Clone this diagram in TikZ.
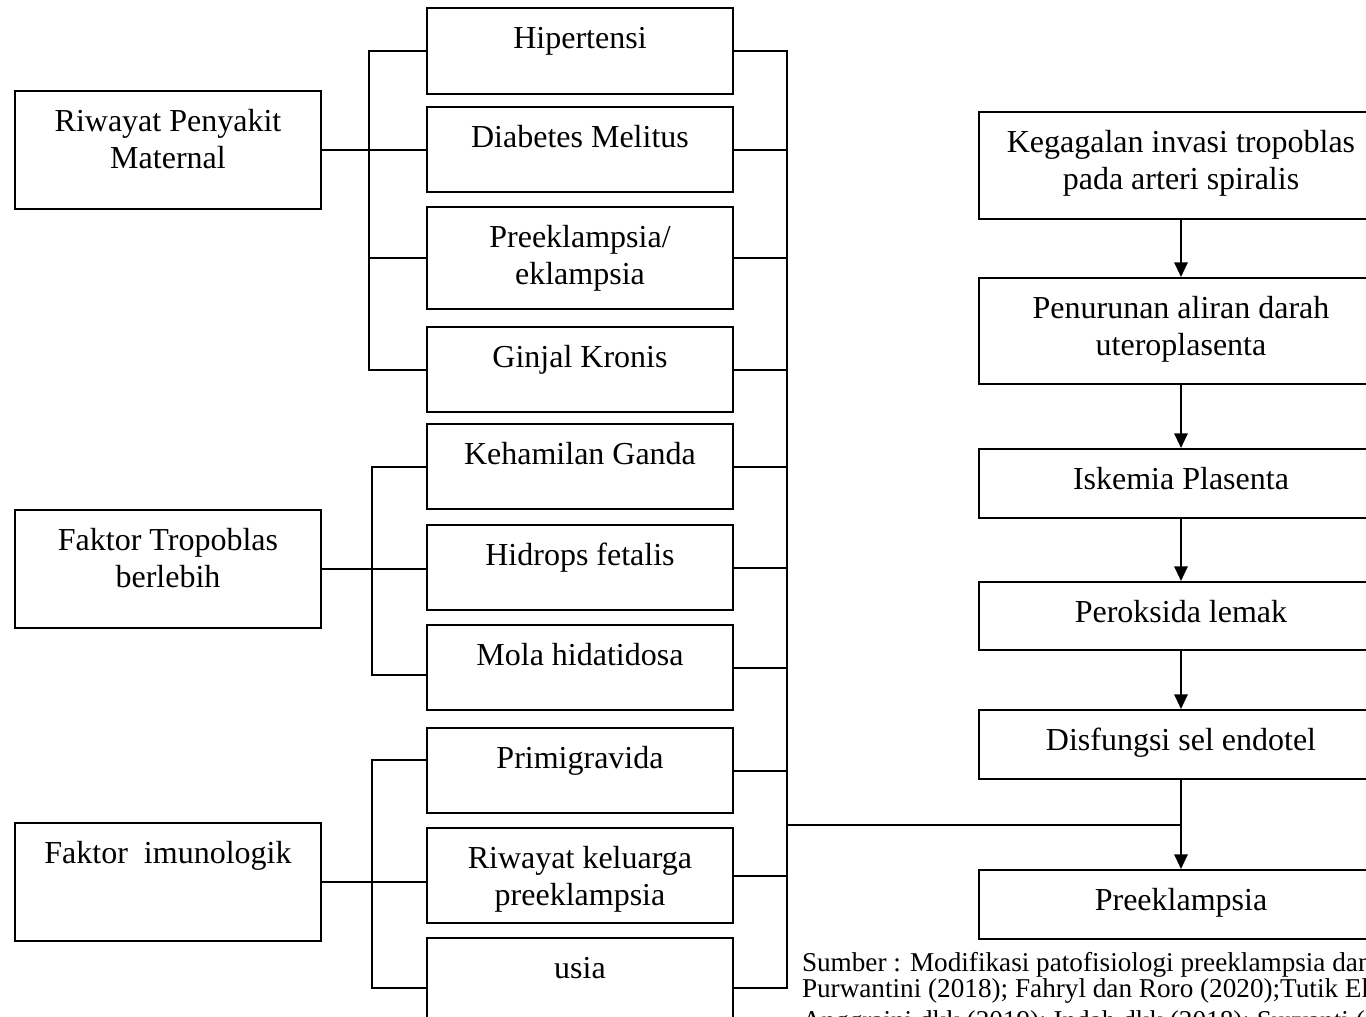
\documentclass[tikz,border=0pt]{standalone}
\usepackage{fontspec}
\setmainfont{Liberation Serif}
\usetikzlibrary{arrows.meta, calc}

\begin{document}
\begin{tikzpicture}[x=0.375pt, y=-0.375pt, line width=0.75pt,
   box/.style={draw, anchor=north west, inner sep=0pt, align=flush center,
     font=\fontsize{12}{13.9}\selectfont, text height=15pt, text depth=#1},
   box/.default=16.875pt,
   lbox/.style={box=29.25pt, text width=114.75pt},
   mbox/.style={box=#1, text width=114.75pt},
   mbox/.default=16.875pt,
   rbox/.style={box=#1, text width=151.5pt},
   arr/.style={-{Triangle[length=5.5pt, width=5pt]}}]
   \useasboundingbox (0,0) rectangle (1366,1017);
   \clip (0,0) rectangle (1366,1017);

   % Factor boxes
   \node[lbox] (rpm) at (14,90) {Riwayat Penyakit\\Maternal};
   \node[lbox] (ftb) at (14,509) {Faktor Tropoblas\\berlebih};
   \node[lbox] (fim) at (14,822) {Faktor\ \ imunologik};

   % Middle column
   \node[mbox=17.25pt] (hip) at (426,7) {Hipertensi};
   \node[mbox] (dm) at (426,106) {Diabetes Melitus};
   \node[mbox=23.25pt] (pe) at (426,206) {Preeklampsia/\\eklampsia};
   \node[mbox] (gk) at (426,326) {Ginjal Kronis};
   \node[mbox] (kg) at (426,423) {Kehamilan Ganda};
   \node[mbox] (hf) at (426,524) {Hidrops fetalis};
   \node[mbox] (mh) at (426,624) {Mola hidatidosa};
   \node[mbox] (pg) at (426,727) {Primigravida};
   \node[mbox=20.625pt] (rkp) at (426,827) {Riwayat keluarga\\preeklampsia};
   \node[mbox=22.5pt] (usia) at (426,937) {usia};

   % Right chain
   \node[rbox=25.125pt] (kit) at (978,111) {Kegagalan invasi tropoblas\\pada arteri spiralis};
   \node[rbox=24.75pt] (pad) at (978,277) {Penurunan aliran darah\\uteroplasenta};
   \node[rbox=10.875pt] (ikp) at (978,448) {Iskemia Plasenta};
   \node[rbox=10.5pt] (plk) at (978,581) {Peroksida lemak};
   \node[rbox=10.875pt] (dse) at (978,709) {Disfungsi sel endotel};
   \node[rbox=10.875pt] (pre) at (978,869) {Preeklampsia};

   \node[anchor=base west, align=flush left, inner sep=0pt, text width=300pt,
     font=\fontsize{10.2}{9.75}\selectfont] (src) at (801,971)
     {Sumber : Modifikasi patofisiologi preeklampsia dan\\
      Purwantini (2018); Fahryl dan Roro (2020);Tutik Eka\\[2.5pt]
      Anggraini dkk (2019); Indah dkk (2018); Suryanti (2019)};

   % Left branches
   \draw (rpm.east) -- (rpm.east -| dm.west);
   \draw (hip.west) -- ++(-57,0) |- (gk.west);
   \draw (pe.west) -- ++(-57,0);
   \draw (ftb.east) -- (ftb.east -| hf.west);
   \draw (kg.west) -- ++(-54,0) |- ([yshift=-2.8pt]mh.west);
   \draw (fim.east) -- (fim.east -| rkp.west);
   \draw ([yshift=3.9pt]pg.west) -- ++(-54,0) |- (usia.west);

   % Right bus
   \draw (hip.east) -- ++(53,0) coordinate (bt) |- (usia.east);
   \foreach \n in {dm, pe, gk, kg, hf, mh, pg, rkp}
     \draw (\n.east) -- (\n.east -| bt);

   \coordinate (jn) at ($(dse.south)!0.5!(pre.north)$);
   \draw (bt |- jn) -- (jn);

   % Transitions
   \path[arr]
    (kit) edge (pad)
    (pad) edge (ikp)
    (ikp) edge (plk)
    (plk) edge (dse)
    (dse) edge (pre);
\end{tikzpicture}
\end{document}
